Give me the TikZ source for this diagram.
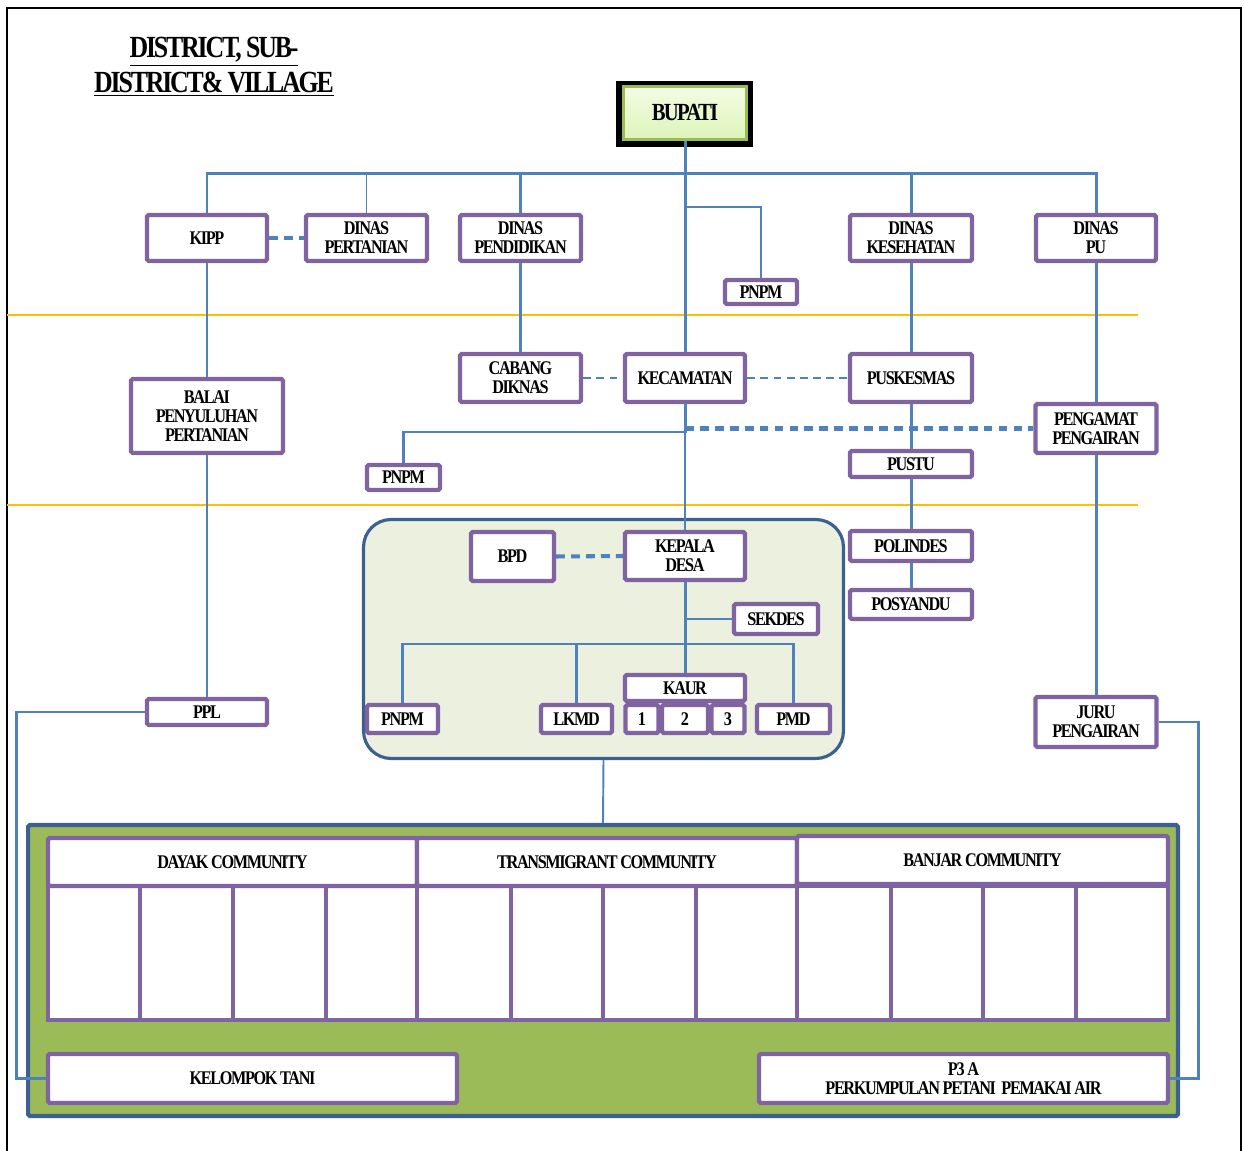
\documentclass[tikz,border=0pt]{standalone}
\usepackage{fontspec}
\setmainfont{Liberation Serif}[FakeStretch=0.84,LetterSpace=-7]
\usetikzlibrary{positioning}
\definecolor{ungu}{HTML}{8064A2}
\definecolor{biru}{HTML}{4F81BD}
\definecolor{birutua}{HTML}{3C6090}
\definecolor{hijau}{HTML}{9BBB59}
\definecolor{hijaumuda}{HTML}{EBF1DE}
\definecolor{hijauatas}{HTML}{F3FCE3}
\definecolor{hijaubawah}{HTML}{DDF4B9}
\definecolor{kuning}{HTML}{FFC000}
\tikzset{
    %Define style for boxes
    kotak/.style={
           rectangle,
           rounded corners=1pt,
           draw=ungu, line width=2.5pt,
           fill=white,
           inner sep=0pt,
           align=center,
           font=\bfseries\fontsize{11}{10.8}\selectfont},
    % Define line styles
    garis/.style={
           draw=biru,
           line width=1.7pt},
    tipis/.style={
           draw=biru,
           line width=1.1pt},
    putus/.style={
           draw=biru,
           line width=2.3pt,
           dash pattern=on 5pt off 3.5pt},
    putustipis/.style={
           draw=biru,
           line width=0.6pt,
           dash pattern=on 4.5pt off 3pt},
}
\begin{document}
\begin{tikzpicture}[x=0.02cm,y=-0.02cm]
\useasboundingbox (0,0) rectangle (1244,1151);

% Rahmen
\draw[line width=0.9pt] (7,1151) -- (7,8) -- (1241,8) -- (1241,1151);

% Garis kuning
\draw[kuning, line width=0.6pt] (7,315) -- (1138,315);
\draw[kuning, line width=1.2pt] (7,505) -- (1138,505);

% Judul
\node[align=center, font=\bfseries\fontsize{17.5}{19.8}\selectfont] (judul) at (214,67)
  {\underline{DISTRICT, SUB-}\\\underline{DISTRICT\& VILLAGE}};

% Bupati
\fill[black] (616,81) rectangle (753,147);
\node[draw=hijau, line width=1.7pt, top color=hijauatas, bottom color=hijaubawah,
      minimum width=2.46cm, minimum height=1.06cm,
      font=\bfseries\fontsize{14}{14}\selectfont] (bupati) at (685,113) {BUPATI};

% Desa und Komunitas (Hintergrund)
\node[draw=birutua, line width=1.8pt, fill=hijaumuda, rounded corners=0.55cm,
      minimum width=9.6cm, minimum height=4.78cm] (desa) at (603.5,639) {};
\node[draw=birutua, line width=2.4pt, fill=hijau, rounded corners=1pt,
      minimum width=23cm, minimum height=5.82cm] (komunitas) at (603,970.5) {};

% Tabelle
\foreach \a/\b in {48/140,140/233,233/326,326/417,417/511,511/603,603/696,696/797,
                   797/891,891/983,983/1076,1076/1168}
  \draw[ungu, line width=1.8pt, fill=white] (\a,886) rectangle (\b,1020);
\draw[ungu, line width=2.5pt] (48,886) rectangle (1168,1020);
\node[kotak, minimum width=7.38cm, minimum height=0.96cm] (dayak) at (232.5,862) {DAYAK COMMUNITY};
\node[kotak, minimum width=7.6cm, minimum height=0.96cm] (transmigran) at (607,862) {TRANSMIGRANT COMMUNITY};
\node[kotak, minimum width=7.42cm, minimum height=0.96cm] (banjar) at (982.5,860) {BANJAR COMMUNITY};
\node[kotak, minimum width=8.18cm, minimum height=0.98cm] (kelompok) at (252.5,1078.5) {KELOMPOK TANI};
\node[kotak, minimum width=8.18cm, minimum height=0.98cm] (p3a) at (963.5,1078.5)
  {P3 A\\PERKUMPULAN PETANI \ PEMAKAI AIR};

% Kabupaten
\node[kotak, minimum width=2.4cm, minimum height=0.92cm] (kipp) at (207,238) {KIPP};
\node[kotak, minimum width=2.42cm, minimum height=0.92cm] (pertanian) at (366.5,238) {DINAS\\PERTANIAN};
\node[kotak, minimum width=2.42cm, minimum height=0.92cm] (pendidikan) at (520.5,238) {DINAS\\PENDIDIKAN};
\node[kotak, minimum width=2.44cm, minimum height=0.92cm] (kesehatan) at (911,238) {DINAS\\KESEHATAN};
\node[kotak, minimum width=2.4cm, minimum height=0.92cm] (dinaspu) at (1096,238) {DINAS\\PU};
\node[kotak, minimum width=1.44cm, minimum height=0.48cm] (pnpmatas) at (761,292) {PNPM};

% Kecamatan
\node[kotak, minimum width=3.04cm, minimum height=1.48cm] (balai) at (207,416) {BALAI\\PENYULUHAN\\PERTANIAN};
\node[kotak, minimum width=2.42cm, minimum height=0.96cm] (cabang) at (520.5,378) {CABANG\\DIKNAS};
\node[kotak, minimum width=2.4cm, minimum height=0.96cm] (kecamatan) at (685,378) {KECAMATAN};
\node[kotak, minimum width=2.44cm, minimum height=0.96cm] (puskesmas) at (911,378) {PUSKESMAS};
\node[kotak, minimum width=2.42cm, minimum height=0.98cm] (pengamat) at (1096,428.5) {PENGAMAT\\PENGAIRAN};
\node[kotak, minimum width=1.46cm, minimum height=0.5cm] (pnpmtengah) at (403.5,477.5) {PNPM};
\node[kotak, minimum width=2.44cm, minimum height=0.52cm] (pustu) at (911,464) {PUSTU};

% Desa
\node[kotak, minimum width=2.44cm, minimum height=0.6cm] (polindes) at (911,546) {POLINDES};
\node[kotak, minimum width=2.44cm, minimum height=0.58cm] (posyandu) at (911,604.5) {POSYANDU};
\node[kotak, minimum width=1.66cm, minimum height=0.98cm] (bpd) at (512.5,556.5) {BPD};
\node[kotak, minimum width=2.4cm, minimum height=0.96cm] (kepala) at (685,556) {KEPALA\\DESA};
\node[kotak, minimum width=1.68cm, minimum height=0.6cm] (sekdes) at (776,619) {SEKDES};
\node[kotak, minimum width=1.42cm, minimum height=0.56cm] (pnpmdesa) at (402.5,719) {PNPM};
\node[kotak, minimum width=1.42cm, minimum height=0.56cm] (lkmd) at (576.5,719) {LKMD};
\node[kotak, minimum width=2.4cm, minimum height=0.52cm] (kaur) at (685,688) {KAUR};
\node[kotak, minimum width=0.66cm, minimum height=0.56cm] (kaur1) at (642,719) {1};
\node[kotak, minimum width=0.92cm, minimum height=0.56cm] (kaur2) at (685,719) {2};
\node[kotak, minimum width=0.66cm, minimum height=0.56cm] (kaur3) at (728,719) {3};
\node[kotak, minimum width=1.46cm, minimum height=0.56cm] (pmd) at (793.5,719) {PMD};
\node[kotak, minimum width=2.4cm, minimum height=0.52cm] (ppl) at (207,712) {PPL};
\node[kotak, minimum width=2.42cm, minimum height=1cm] (juru) at (1096,722) {JURU\\PENGAIRAN};

% Garis dari Bupati
\coordinate (balken) at (0,174);
\coordinate (cabangpnpm) at (685,207);
\draw[garis] (bupati.south) -- (kecamatan.north);
\draw[garis] (kipp.north) -- (kipp.north |- balken) -- (dinaspu.north |- balken) -- (dinaspu.north);
\draw[tipis] (pertanian.north) -- (pertanian.north |- balken);
\foreach \n in {pendidikan,kesehatan}
  \draw[garis] (\n.north) -- (\n.north |- balken);
\draw[tipis] (cabangpnpm) -| (pnpmatas.north);

% Garis vertikal
\draw[tipis] (kipp.south) -- (balai.north);
\draw[tipis] (balai.south) -- (ppl.north);
\draw[garis] (pendidikan.south) -- (cabang.north);
\draw[garis] (kesehatan.south) -- (puskesmas.north);
\draw[garis] (puskesmas.south) -- (pustu.north);
\draw[garis] (pustu.south) -- (polindes.north);
\draw[garis] (polindes.south) -- (posyandu.north);
\draw[garis] (dinaspu.south) -- (pengamat.north);
\draw[garis] (pengamat.south) -- (juru.north);

% Garis putus
\draw[putus] (kipp.east) -- (pertanian.west);
\draw[putustipis] (cabang.east) -- (kecamatan.west);
\draw[putustipis] (kecamatan.east) -- (puskesmas.west);
\draw[putus] (kecamatan.south |- pengamat.west) -- (pengamat.west);
\draw[putus] (bpd.east) -- (kepala.west);

% Kecamatan ke desa
\coordinate (simpang) at (685,432);
\draw[garis] (kecamatan.south) -- (simpang) -| (pnpmtengah.north);
\draw[tipis] (simpang) -- (kepala.north);

% Struktur desa
\coordinate (desabalken) at (0,644);
\draw[garis] (kepala.south) -- (kaur.north);
\draw[garis] (kepala.south |- sekdes.west) -- (sekdes.west);
\draw[garis] (pnpmdesa.north) |- (pmd.north |- desabalken) -- (pmd.north);
\draw[garis] (lkmd.north) -- (lkmd.north |- desabalken);
\draw[tipis] (desa.south) -- (komunitas.north);

% Kelompok tani und P3A
\draw[garis] (ppl.west) -- ++(-128,0) |- (kelompok.west);
\draw[garis] (juru.east) -- ++(40,0) |- (p3a.east);
\end{tikzpicture}
\end{document}
